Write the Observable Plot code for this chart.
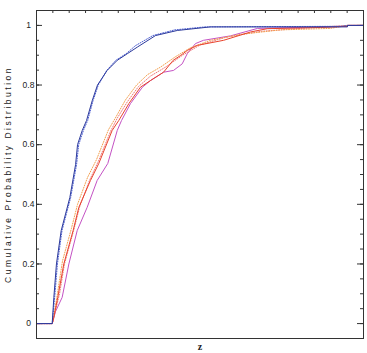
<!DOCTYPE html>
<html><head><meta charset="utf-8">
<script src="https://cdn.jsdelivr.net/npm/d3@7"></script>
<script src="https://cdn.jsdelivr.net/npm/@observablehq/plot@0.6"></script>
<style>body{margin:0;background:#fff}</style>
</head><body><div id="chart"></div>
<script>
// Cumulative distributions (z, probability)
const blueSolidZ = [0,0.096,0.106,0.122,0.151,0.204,0.239,0.251,0.280,0.306,0.341,0.373,0.432,0.494,0.555,0.616,0.728,0.861,1.064,1.902,1.902,2.0];
const blueSolidP = [0,0,0.087,0.2,0.312,0.423,0.533,0.6,0.648,0.681,0.748,0.8,0.849,0.883,0.905,0.927,0.966,0.983,0.995,0.995,1,1];

const blueDotZ = [0,0.096,0.111,0.128,0.156,0.209,0.245,0.258,0.287,0.313,0.346,0.378,0.430,0.485,0.548,0.605,0.712,0.845,1.030,1.859,1.902,2.0];
const blueDotP = [0,0,0.087,0.2,0.312,0.423,0.533,0.6,0.648,0.681,0.748,0.8,0.849,0.883,0.905,0.932,0.966,0.985,0.995,0.997,1,1];

const redSolidZ = [0,0.096,0.102,0.130,0.167,0.224,0.259,0.330,0.381,0.463,0.503,0.565,0.636,0.697,0.777,0.836,0.881,0.922,0.983,1.144,1.309,1.411,1.737,1.902,1.902,2.0];
const redSolidP = [0,0,0.01,0.088,0.2,0.312,0.39,0.48,0.537,0.648,0.681,0.738,0.793,0.815,0.843,0.883,0.899,0.916,0.933,0.95,0.978,0.989,0.993,0.997,1,1];

const magentaZ = [0,0.096,0.116,0.157,0.198,0.249,0.310,0.371,0.436,0.494,0.520,0.575,0.648,0.697,0.777,0.838,0.891,0.922,0.972,1.021,1.187,1.352,1.902,1.902,2.0];
const magentaP = [0,0,0.04,0.088,0.2,0.312,0.39,0.48,0.537,0.648,0.681,0.738,0.793,0.815,0.843,0.849,0.871,0.905,0.939,0.95,0.965,0.99,0.997,1,1];

const orangeDotZ = [0,0.096,0.104,0.128,0.159,0.214,0.251,0.312,0.367,0.440,0.483,0.544,0.612,0.679,0.758,0.850,0.942,1.064,1.248,1.492,1.798,1.902,2.0];
const orangeDotP = [0,0,0.02,0.1,0.21,0.32,0.4,0.49,0.55,0.65,0.69,0.75,0.8,0.835,0.86,0.895,0.925,0.95,0.97,0.985,0.99,1,1];

const pinkDotZ = [0,0.096,0.110,0.141,0.171,0.226,0.263,0.324,0.379,0.453,0.495,0.557,0.624,0.697,0.789,0.893,1.003,1.156,1.370,1.615,1.902,2.0];
const pinkDotP = [0,0,0.03,0.1,0.2,0.31,0.39,0.48,0.545,0.645,0.69,0.745,0.795,0.83,0.86,0.9,0.935,0.96,0.98,0.99,1,1];

const yMajor = [0,0.2,0.4,0.6,0.8,1];
const yMinor = d3.range(0,21).map(i => i*0.05);
const xTicks = d3.range(0,21).map(i => i*0.1);
const yLabel = "Cumulative Probability Distribution";
const xLabel = "z";

const series = [
  {z:magentaZ, p:magentaP, color:"#c452c4", dash:null},
  {z:pinkDotZ, p:pinkDotP, color:"#f07878", dash:"1,1.5"},
  {z:orangeDotZ, p:orangeDotP, color:"#f3a050", dash:"1,1.5"},
  {z:redSolidZ, p:redSolidP, color:"#e8432c", dash:null},
  {z:blueDotZ, p:blueDotP, color:"#4c5ed2", dash:"1,1.5"},
  {z:blueSolidZ, p:blueSolidP, color:"#2c3a9c", dash:null}
];

const W = 367, H = 353, ML = 36, MR = 4, MT = 10, MB = 15;
const innerW = W - ML - MR, innerH = H - MT - MB;

const lineMarks = series.map(s => Plot.line(s.z.map((z,i)=>({z, p:s.p[i]})), {
  x:"z", y:"p", stroke:s.color, strokeWidth:1, strokeDasharray:s.dash
}));

const plot = Plot.plot({
  width:W, height:H,
  marginLeft:ML, marginRight:MR, marginTop:MT, marginBottom:MB,
  x:{domain:[0,2], axis:null},
  y:{domain:[-0.05,1.05], axis:null},
  style:{fontFamily:"Liberation Sans", fontSize:"8.5px", color:"#222", background:"#fff"},
  marks:[
    Plot.axisY(yMajor, {anchor:"left", tickSize:0, tickPadding:8, textAnchor:"middle", tickFormat:d3.format("~g"), label:null, fill:"#222"}),
    Plot.tickY(yMajor, {y:d=>d, stroke:"#333", insetRight:innerW-6}),
    Plot.tickY(yMinor, {y:d=>d, stroke:"#333", insetRight:innerW-3}),
    Plot.tickY(yMajor, {y:d=>d, stroke:"#333", insetLeft:innerW-6}),
    Plot.tickY(yMinor, {y:d=>d, stroke:"#333", insetLeft:innerW-3}),
    Plot.tickX(xTicks, {x:d=>d, stroke:"#333", insetBottom:innerH-3}),
    ...lineMarks,
    Plot.frame({stroke:"#333", strokeWidth:1}),
    Plot.text([yLabel], {frameAnchor:"left", textAnchor:"middle", rotate:-90, dx:-28, fontSize:8.5, fill:"#222", className:"ylab"}),
    Plot.text([xLabel], {frameAnchor:"bottom", textAnchor:"middle", dy:11, fontSize:10, fontWeight:"bold", fontFamily:"Liberation Serif", fill:"#222"})
  ]
});
plot.querySelectorAll(".ylab text").forEach(t => t.style.letterSpacing = "2.5px");
document.getElementById("chart").appendChild(plot);
</script>
</body></html>
